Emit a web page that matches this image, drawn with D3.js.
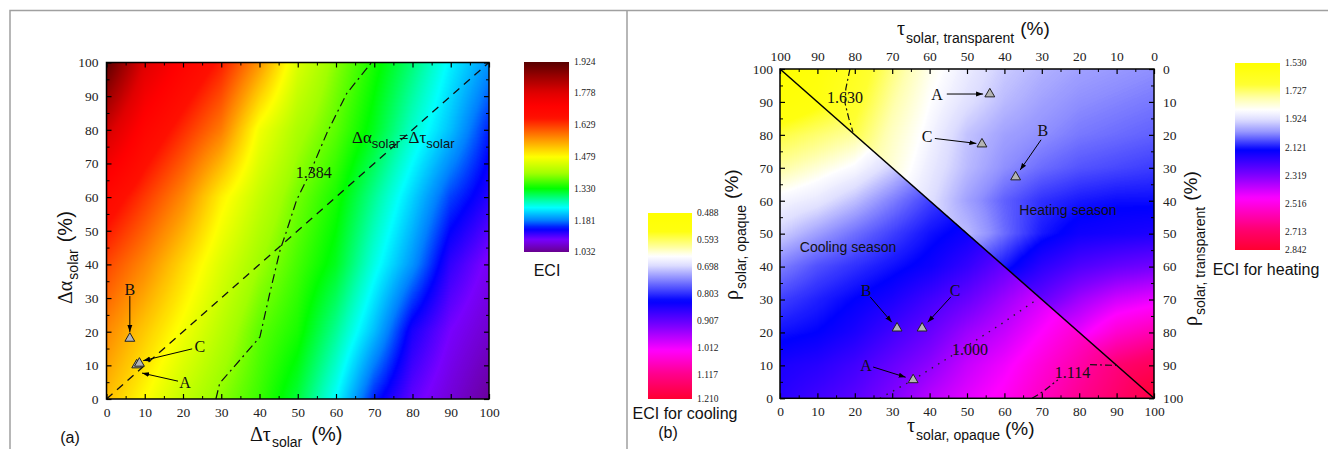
<!DOCTYPE html>
<html>
<head>
<meta charset="utf-8">
<script src="https://cdn.jsdelivr.net/npm/d3@7"></script>
<style>
  body { margin: 0; background: #fff; }
  svg { display: block; }
</style>
</head>
<body>
<div id="chart"></div>
<script>
// ---------------------------------------------------------------------------
// Data
// ---------------------------------------------------------------------------
const pctTicks = [0, 10, 20, 30, 40, 50, 60, 70, 80, 90, 100];
const pctMinor = [5, 15, 25, 35, 45, 55, 65, 75, 85, 95];

// (a) ECI over (dTau, dAlpha)
const gridX = [0, 10, 20, 30, 40, 50, 60, 70, 80, 90, 100];
const eciGridY = [0, 20, 40, 60, 80, 100];
const eciRows = [
  [1.53, 1.48, 1.43, 1.39, 1.355, 1.31, 1.24, 1.15, 1.10, 1.07, 1.04],
  [1.57, 1.52, 1.47, 1.42, 1.37, 1.34, 1.28, 1.21, 1.13, 1.09, 1.065],
  [1.62, 1.57, 1.51, 1.45, 1.40, 1.36, 1.32, 1.25, 1.19, 1.12, 1.085],
  [1.69, 1.63, 1.57, 1.49, 1.43, 1.38, 1.34, 1.28, 1.22, 1.16, 1.125],
  [1.80, 1.70, 1.64, 1.58, 1.47, 1.41, 1.37, 1.32, 1.26, 1.21, 1.15],
  [1.92, 1.78, 1.71, 1.65, 1.56, 1.45, 1.39, 1.34, 1.29, 1.235, 1.19]
];
const eciStops  = [1.032, 1.09, 1.14, 1.18, 1.24, 1.27, 1.33, 1.40, 1.479, 1.54, 1.60, 1.66, 1.72, 1.78, 1.85, 1.924];
const eciColors = ['#68008e', '#7800ff', '#0000ff', '#0080ff', '#00ffff', '#00ffb0', '#00ff00', '#a0ff00',
                   '#ffff00', '#ffb000', '#ff6000', '#ff1000', '#ff0000', '#e00000', '#a00000', '#580000'];
const eciLabels = ['1.924', '1.778', '1.629', '1.479', '1.330', '1.181', '1.032'];

const contour1384 = [[28.6, 0], [29.6, 4.7], [40.1, 18.4], [42.7, 31.5], [45.4, 44.3], [46.9, 49.3],
                     [49.7, 59.1], [53.2, 67.2], [57.6, 79], [62.8, 90.8], [69.3, 100]];
const equalLine = [[0, 0], [100, 100]];
const markersA = [
  { name: 'A', x: 7.9, y: 10.1, lx: 20.5, ly: 4.8, from: [18.7, 5.3], to: [9.3, 7.7] },
  { name: 'C', x: 8.6, y: 10.6, lx: 24.4, ly: 15.5, from: [22.4, 14.9], to: [9.6, 11.4] },
  { name: 'B', x: 6.1, y: 18.0, lx: 6.1, ly: 32.7, from: [6.1, 30.6], to: [6.1, 19.9] }
];

// (b) cooling (below the diagonal) and heating (above it)
const gridY = [0, 10, 20, 30, 40, 50, 60, 70, 80, 90, 100];
const coolRows = [
  [0.86, 0.88, 0.90, 0.93, 0.97, 1.00, 1.03, 1.07, 1.11, 1.15, 1.19],
  [0.85, 0.86, 0.88, 0.91, 0.94, 0.98, 1.01, 1.05, 1.09, 1.13, 1.17],
  [0.82, 0.83, 0.85, 0.88, 0.91, 0.95, 0.98, 1.02, 1.06, 1.10, 1.14],
  [0.79, 0.81, 0.83, 0.85, 0.88, 0.91, 0.95, 0.99, 1.03, 1.07, 1.11],
  [0.75, 0.78, 0.80, 0.82, 0.84, 0.87, 0.91, 0.95, 0.99, 1.03, 1.07],
  [0.70, 0.73, 0.76, 0.79, 0.82, 0.84, 0.87, 0.91, 0.95, 0.99, 1.03],
  [0.665, 0.68, 0.71, 0.75, 0.79, 0.82, 0.85, 0.88, 0.92, 0.96, 1.00],
  [0.62, 0.64, 0.66, 0.70, 0.75, 0.79, 0.82, 0.85, 0.89, 0.93, 0.97],
  [0.58, 0.60, 0.62, 0.66, 0.71, 0.76, 0.80, 0.83, 0.87, 0.91, 0.95],
  [0.52, 0.55, 0.58, 0.62, 0.67, 0.72, 0.77, 0.81, 0.85, 0.89, 0.93],
  [0.49, 0.51, 0.54, 0.58, 0.63, 0.68, 0.73, 0.78, 0.82, 0.86, 0.90]
];
const heatRows = [
  [2.00, 2.10, 2.20, 2.30, 2.40, 2.48, 2.56, 2.64, 2.72, 2.80, 2.84],
  [1.92, 2.02, 2.12, 2.22, 2.30, 2.38, 2.46, 2.54, 2.62, 2.70, 2.75],
  [1.86, 1.95, 2.04, 2.12, 2.20, 2.28, 2.34, 2.40, 2.45, 2.55, 2.60],
  [1.80, 1.88, 1.96, 2.04, 2.12, 2.20, 2.24, 2.28, 2.36, 2.42, 2.45],
  [1.75, 1.82, 1.90, 1.96, 2.02, 2.07, 2.12, 2.20, 2.25, 2.28, 2.30],
  [1.70, 1.76, 1.84, 1.90, 1.94, 1.97, 2.05, 2.12, 2.16, 2.17, 2.18],
  [1.66, 1.72, 1.80, 1.86, 1.92, 2.00, 2.06, 2.10, 2.12, 2.13, 2.13],
  [1.62, 1.68, 1.75, 1.82, 1.90, 1.97, 2.02, 2.05, 2.07, 2.08, 2.09],
  [1.58, 1.62, 1.70, 1.80, 1.88, 1.96, 2.00, 2.02, 2.04, 2.05, 2.06],
  [1.55, 1.58, 1.66, 1.77, 1.86, 1.92, 1.97, 2.00, 2.02, 2.03, 2.04],
  [1.53, 1.56, 1.63, 1.74, 1.84, 1.90, 1.95, 1.98, 2.00, 2.01, 2.02]
];

const coolStops  = [0.488, 0.56, 0.62, 0.655, 0.69, 0.75, 0.83, 0.93, 1.02, 1.11, 1.21];
const coolColors = ['#ffff00', '#ffff10', '#ffffa0', '#ffffff', '#e0e0ff', '#8080ff', '#0000ff',
                    '#8000ff', '#ff00ff', '#ff0090', '#ff0030'];
const coolLabels = ['0.488', '0.593', '0.698', '0.803', '0.907', '1.012', '1.117', '1.210'];

const heatStops  = [1.53, 1.68, 1.78, 1.86, 1.93, 2.02, 2.14, 2.32, 2.48, 2.70, 2.842];
const heatColors = ['#ffff00', '#ffff30', '#ffffb0', '#ffffff', '#dcdcff', '#9090ff', '#0000ff',
                    '#8000ff', '#ff00ff', '#ff0070', '#ff0030'];
const heatLabels = ['1.530', '1.727', '1.924', '2.121', '2.319', '2.516', '2.713', '2.842'];

const seasonBoundary = [[0, 100], [100, 0]];
const contour1630 = [[18.7, 100], [17.6, 94], [17.4, 89.6], [18.4, 85], [19.5, 80.9]];
const contour1000 = [[26.7, 0], [35.6, 5.6], [46.3, 13.2], [58.8, 22.3], [68.7, 30]];
const contour1114 = [[67.4, 0], [70.3, 2], [74.3, 5.6], null, [82.9, 10.2], [90, 10]];
const markersB = [
  { name: 'A', x: 56.1, y: 92.4, lx: 42.0, ly: 92.4, from: [44.6, 92.4], to: [54.3, 92.4] },
  { name: 'C', x: 54.0, y: 77.2, lx: 39.3, ly: 79.4, from: [41.4, 78.9], to: [52.5, 77.4] },
  { name: 'B', x: 63.0, y: 67.2, lx: 70.3, ly: 81.5, from: [69.8, 78.5], to: [64.2, 69.3] },
  { name: 'B', x: 31.3, y: 21.3, lx: 23.0, ly: 32.9, from: [24.1, 30.8], to: [29.9, 23.1] },
  { name: 'C', x: 38.0, y: 21.3, lx: 46.8, ly: 32.9, from: [45.7, 30.8], to: [39.5, 23.1] },
  { name: 'A', x: 35.6, y: 5.6, lx: 23.0, ly: 10.1, from: [24.9, 9.5], to: [33.6, 6.4] }
];

// ---------------------------------------------------------------------------
// Style
// ---------------------------------------------------------------------------
const SERIF = '"Liberation Serif", "Times New Roman", serif';
const SANS = '"Liberation Sans", Arial, sans-serif';
const MARKER_FILL = '#b4b4b4';
const TICK_FONT = 13.5;

const svg = d3.select('#chart').append('svg')
    .attr('width', 1328)
    .attr('height', 449);

const defs = svg.append('defs');
defs.append('marker')
    .attr('id', 'arrow')
    .attr('viewBox', '0 -5 10 10')
    .attr('refX', 10)
    .attr('refY', 0)
    .attr('markerWidth', 7)
    .attr('markerHeight', 7)
    .attr('markerUnits', 'userSpaceOnUse')
    .attr('orient', 'auto')
    .append('path')
    .attr('d', 'M0,-3.5L10,0L0,3.5Z')
    .attr('fill', '#000');

// panel frames
svg.append('path')
    .attr('d', 'M10,449V10.5H1328M627,10.5V449')
    .attr('fill', 'none')
    .attr('stroke', '#a0a0a0')
    .attr('stroke-width', 1.5);

// ---------------------------------------------------------------------------
// Helpers
// ---------------------------------------------------------------------------
function makeLut(stops, colors, n = 600) {
    const sc = d3.scaleLinear().domain(stops).range(colors).interpolate(d3.interpolateRgb).clamp(true);
    const lo = stops[0], hi = stops[stops.length - 1];
    const lut = d3.range(n).map(i => d3.rgb(sc(lo + (hi - lo) * i / (n - 1))));
    const fn = v => lut[Math.max(0, Math.min(n - 1, Math.round((v - lo) / (hi - lo) * (n - 1))))];
    fn.scale = sc;
    return fn;
}

function bilinear(xs, ys, rows, x, y) {
    const i = Math.max(0, Math.min(xs.length - 2, d3.bisectRight(xs, x) - 1));
    const j = Math.max(0, Math.min(ys.length - 2, d3.bisectRight(ys, y) - 1));
    const tx = Math.max(0, Math.min(1, (x - xs[i]) / (xs[i + 1] - xs[i])));
    const ty = Math.max(0, Math.min(1, (y - ys[j]) / (ys[j + 1] - ys[j])));
    return rows[j][i] * (1 - tx) * (1 - ty) + rows[j][i + 1] * tx * (1 - ty)
         + rows[j + 1][i] * (1 - tx) * ty + rows[j + 1][i + 1] * tx * ty;
}

// paints a field into a canvas and puts it into the svg as an image
function drawField(g, xs, ys, colorAt) {
    const [x0, x1] = xs.range();
    const [yb, yt] = ys.range();
    const w = Math.ceil(x1 - x0), h = Math.ceil(yb - yt);
    const canvas = document.createElement('canvas');
    canvas.width = w;
    canvas.height = h;
    const ctx = canvas.getContext('2d');
    const img = ctx.createImageData(w, h);
    for (let j = 0; j < h; j++) {
        const dy = ys.invert(yt + j + 0.5);
        for (let i = 0; i < w; i++) {
            const c = colorAt(xs.invert(x0 + i + 0.5), dy);
            const k = (j * w + i) * 4;
            img.data[k] = c.r; img.data[k + 1] = c.g; img.data[k + 2] = c.b; img.data[k + 3] = 255;
        }
    }
    ctx.putImageData(img, 0, 0);
    g.append('image')
        .attr('x', x0).attr('y', yt)
        .attr('width', x1 - x0).attr('height', yb - yt)
        .attr('preserveAspectRatio', 'none')
        .attr('href', canvas.toDataURL());
}

function addAxis(g, axisFn, scale, transform, showLabels, padding) {
    const major = axisFn(scale).tickValues(pctTicks).tickSizeInner(-5).tickSizeOuter(0).tickPadding(padding);
    if (!showLabels) major.tickFormat('');
    const ga = g.append('g').attr('transform', transform).call(major);
    ga.select('.domain').remove();
    ga.selectAll('.tick line').attr('stroke', '#000').attr('stroke-width', 1.2);
    ga.selectAll('.tick text')
        .attr('font-family', SERIF).attr('font-size', TICK_FONT).attr('fill', '#222');

    const gm = g.append('g').attr('transform', transform)
        .call(axisFn(scale).tickValues(pctMinor).tickSize(-3).tickFormat(''));
    gm.select('.domain').remove();
    gm.selectAll('.tick line').attr('stroke', '#000').attr('stroke-width', 1);
}

function frame(g, xs, ys) {
    g.append('rect')
        .attr('x', xs.range()[0]).attr('y', ys.range()[1])
        .attr('width', xs.range()[1] - xs.range()[0])
        .attr('height', ys.range()[0] - ys.range()[1])
        .attr('fill', 'none').attr('stroke', '#000').attr('stroke-width', 1.5);
}

function richText(parent, x, y, parts, rotate) {
    const t = parent.append('text')
        .attr('transform', `translate(${x},${y})` + (rotate ? ' rotate(-90)' : ''))
        .attr('fill', '#111');
    parts.forEach(p => {
        t.append('tspan')
            .attr('font-family', p.serif ? SERIF : SANS)
            .attr('font-size', p.size)
            .attr('dx', p.dx || 0)
            .attr('dy', p.dy || 0)
            .text(p.t);
    });
    return t;
}

function plainText(parent, x, y, txt, opts = {}) {
    return parent.append('text')
        .attr('x', x).attr('y', y)
        .attr('text-anchor', opts.anchor || 'middle')
        .attr('font-family', opts.serif ? SERIF : SANS)
        .attr('font-size', opts.size || 16)
        .attr('fill', '#111')
        .text(txt);
}

function drawMarkers(g, xs, ys, list) {
    const tri = d3.symbol().type(d3.symbolTriangle).size(42);
    list.forEach(m => {
        g.append('line')
            .attr('x1', xs(m.from[0])).attr('y1', ys(m.from[1]))
            .attr('x2', xs(m.to[0])).attr('y2', ys(m.to[1]))
            .attr('stroke', '#000').attr('stroke-width', 1)
            .attr('marker-end', 'url(#arrow)');
        plainText(g, xs(m.lx), ys(m.ly), m.name, { serif: true, size: 16 })
            .attr('dy', '0.35em');
    });
    g.selectAll(null)
        .data(list)
        .enter()
        .append('path')
        .attr('d', tri)
        .attr('transform', d => `translate(${xs(d.x)},${ys(d.y)})`)
        .attr('fill', MARKER_FILL)
        .attr('stroke', '#222')
        .attr('stroke-width', 1);
}

function drawColorbar(g, lut, x, top, bottom, width, topValue, bottomValue, labels) {
    const id = 'grad' + Math.round(x);
    const grad = defs.append('linearGradient')
        .attr('id', id).attr('x1', 0).attr('y1', 0).attr('x2', 0).attr('y2', 1);
    d3.range(0, 61).forEach(i => {
        const v = topValue + (bottomValue - topValue) * i / 60;
        grad.append('stop').attr('offset', i / 60).attr('stop-color', lut.scale(v));
    });
    g.append('rect')
        .attr('x', x).attr('y', top)
        .attr('width', width).attr('height', bottom - top)
        .attr('fill', `url(#${id})`);
    const cb = d3.scaleLinear().domain([topValue, bottomValue]).range([top, bottom]);
    g.selectAll(null)
        .data(labels)
        .enter()
        .append('text')
        .attr('x', x + width + 5)
        .attr('y', d => cb(+d))
        .attr('dy', '0.35em')
        .attr('font-family', SERIF)
        .attr('font-size', 9.5)
        .attr('fill', '#222')
        .text(d => d);
}

// ---------------------------------------------------------------------------
// Panel (a)
// ---------------------------------------------------------------------------
const ga = svg.append('g');
const ax = d3.scaleLinear().domain([0, 100]).range([106.5, 489]);
const ay = d3.scaleLinear().domain([0, 100]).range([399, 62.5]);
const eciLut = makeLut(eciStops, eciColors);

drawField(ga, ax, ay, (x, y) => eciLut(bilinear(gridX, eciGridY, eciRows, x, y)));

const lineA = d3.line().x(d => ax(d[0])).y(d => ay(d[1]));
ga.append('path')
    .attr('d', lineA(equalLine))
    .attr('fill', 'none').attr('stroke', '#111').attr('stroke-width', 1.3)
    .attr('stroke-dasharray', '8,6');
ga.append('path')
    .attr('d', lineA(contour1384))
    .attr('fill', 'none').attr('stroke', '#111').attr('stroke-width', 1.2)
    .attr('stroke-dasharray', '9,4,2,4');

addAxis(ga, d3.axisBottom, ax, `translate(0,${ay(0)})`, true, 8);
addAxis(ga, d3.axisTop, ax, `translate(0,${ay(100)})`, false, 4);
addAxis(ga, d3.axisLeft, ay, `translate(${ax(0)},0)`, true, 8);
addAxis(ga, d3.axisRight, ay, `translate(${ax(100)},0)`, false, 4);
frame(ga, ax, ay);

drawMarkers(ga, ax, ay, markersA);

plainText(ga, ax(54.2), ay(67.3), '1.384', { serif: true, size: 16 }).attr('dy', '0.35em');
richText(ga, 352, 143, [
    { t: '\u0394\u03b1', serif: true, size: 17 },
    { t: 'solar', size: 13, dy: 5 }
]);
richText(ga, 399, 143, [
    { t: '=', serif: true, size: 17 },
    { t: '\u0394\u03c4', serif: true, size: 17 },
    { t: 'solar', size: 13, dy: 5 }
]);

richText(ga, 250, 441, [
    { t: '\u0394\u03c4', serif: true, size: 20 },
    { t: 'solar', size: 14, dy: 6, dx: 1 },
    { t: '(%)', size: 20, dy: -6, dx: 9 }
]);
richText(ga, 72, 304, [
    { t: '\u0394\u03b1', serif: true, size: 20 },
    { t: 'solar', size: 14, dy: 6, dx: 1 },
    { t: '(%)', size: 20, dy: -6, dx: 7 }
], true);
plainText(ga, 70, 443, '(a)', { size: 16 });

drawColorbar(ga, eciLut, 524, 62, 252, 45, 1.924, 1.032, eciLabels);
plainText(ga, 547, 276, 'ECI', { size: 16 });

// ---------------------------------------------------------------------------
// Panel (b)
// ---------------------------------------------------------------------------
const gb = svg.append('g');
const bx = d3.scaleLinear().domain([0, 100]).range([780, 1154]);
const by = d3.scaleLinear().domain([0, 100]).range([398.3, 69]);
const bxTop = d3.scaleLinear().domain([100, 0]).range([780, 1154]);
const byRight = d3.scaleLinear().domain([0, 100]).range([69, 398.3]);
const coolLut = makeLut(coolStops, coolColors);
const heatLut = makeLut(heatStops, heatColors);

drawField(gb, bx, by, (x, y) => (x + y < 100)
    ? coolLut(bilinear(gridX, gridY, coolRows, x, y))
    : heatLut(bilinear(gridX, gridY, heatRows, x, y)));

const lineB = d3.line().defined(d => d).x(d => bx(d[0])).y(d => by(d[1]));
gb.append('path')
    .attr('d', lineB(seasonBoundary))
    .attr('fill', 'none').attr('stroke', '#000').attr('stroke-width', 1.5);
gb.append('path')
    .attr('d', lineB(contour1630))
    .attr('fill', 'none').attr('stroke', '#111').attr('stroke-width', 1.2)
    .attr('stroke-dasharray', '7,3,2,3');
gb.append('path')
    .attr('d', lineB(contour1114))
    .attr('fill', 'none').attr('stroke', '#111').attr('stroke-width', 1.2)
    .attr('stroke-dasharray', '7,3,2,3');
gb.append('path')
    .attr('d', lineB(contour1000))
    .attr('fill', 'none').attr('stroke', '#222').attr('stroke-width', 1.4)
    .attr('stroke-dasharray', '1.5,6');

addAxis(gb, d3.axisBottom, bx, `translate(0,${by(0)})`, true, 8);
addAxis(gb, d3.axisLeft, by, `translate(${bx(0)},0)`, true, 7);
addAxis(gb, d3.axisTop, bxTop, `translate(0,${by(100)})`, true, 8);
addAxis(gb, d3.axisRight, byRight, `translate(${bx(100)},0)`, true, 9);
frame(gb, bx, by);

drawMarkers(gb, bx, by, markersB);

plainText(gb, bx(17.4), by(91.5), '1.630', { serif: true, size: 16 }).attr('dy', '0.35em');
plainText(gb, bx(50.8), by(14.7), '1.000', { serif: true, size: 16 }).attr('dy', '0.35em');
plainText(gb, bx(78.2), by(8), '1.114', { serif: true, size: 16 }).attr('dy', '0.35em');
plainText(gb, bx(5.3), by(46), 'Cooling season', { size: 14, anchor: 'start' }).attr('dy', '0.35em');
plainText(gb, bx(64), by(57.2), 'Heating season', { size: 14, anchor: 'start' }).attr('dy', '0.35em');

richText(gb, 897, 35, [
    { t: '\u03c4', serif: true, size: 20 },
    { t: 'solar, transparent', size: 14, dy: 8, dx: 1 },
    { t: '(%)', size: 19, dy: -8, dx: 6 }
]);
richText(gb, 907, 432, [
    { t: '\u03c4', serif: true, size: 20 },
    { t: 'solar, opaque', size: 14, dy: 8, dx: 1 }
]);
plainText(gb, 1005, 435, '(%)', { size: 19, anchor: 'start' });
richText(gb, 738, 300, [
    { t: '\u03c1', serif: true, size: 20 },
    { t: 'solar, opaque', size: 14, dy: 8, dx: 1 },
    { t: '(%)', size: 19, dy: -8, dx: 6 }
], true);
richText(gb, 1197, 326, [
    { t: '\u03c1', serif: true, size: 20 },
    { t: 'solar, transparent', size: 14, dy: 8, dx: 1 },
    { t: '(%)', size: 19, dy: -8, dx: 6 }
], true);

drawColorbar(gb, coolLut, 648, 213, 399, 44, 0.488, 1.210, coolLabels);
plainText(gb, 685, 419, 'ECI for cooling', { size: 16 });
plainText(gb, 668, 438, '(b)', { size: 16 });

drawColorbar(gb, heatLut, 1235, 63, 250, 45, 1.530, 2.842, heatLabels);
plainText(gb, 1266, 275, 'ECI for heating', { size: 16 });
</script>
</body>
</html>
